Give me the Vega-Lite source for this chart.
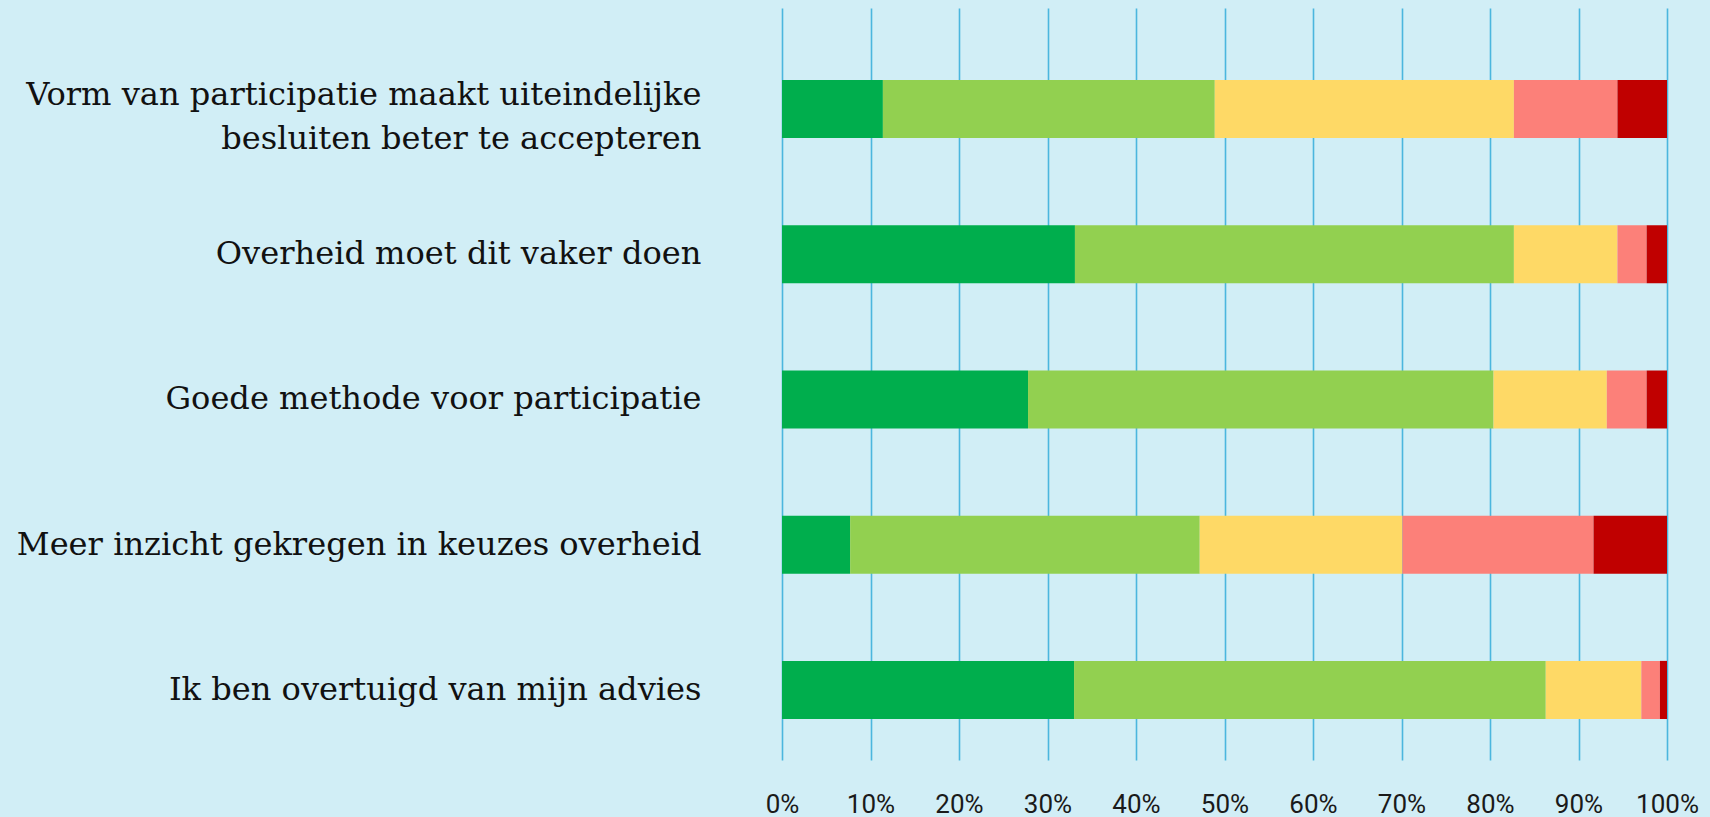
{
  "$schema": "https://vega.github.io/schema/vega-lite/v6.json",
  "autosize": "none",
  "width": 885,
  "height": 752,
  "padding": {"left": 782, "top": 8, "right": 43, "bottom": 57},
  "background": "#D1EEF6",
  "config": {"view": {"stroke": null}},
  "data": {
    "values": [
      {"stelling": "Vorm van participatie maakt uiteindelijke|besluiten beter te accepteren", "antwoord": "Helemaal eens", "k": 1, "pct": 11.4},
      {"stelling": "Vorm van participatie maakt uiteindelijke|besluiten beter te accepteren", "antwoord": "Eens", "k": 2, "pct": 37.5},
      {"stelling": "Vorm van participatie maakt uiteindelijke|besluiten beter te accepteren", "antwoord": "Neutraal", "k": 3, "pct": 33.8},
      {"stelling": "Vorm van participatie maakt uiteindelijke|besluiten beter te accepteren", "antwoord": "Oneens", "k": 4, "pct": 11.7},
      {"stelling": "Vorm van participatie maakt uiteindelijke|besluiten beter te accepteren", "antwoord": "Helemaal oneens", "k": 5, "pct": 5.6},
      {"stelling": "Overheid moet dit vaker doen", "antwoord": "Helemaal eens", "k": 1, "pct": 33.1},
      {"stelling": "Overheid moet dit vaker doen", "antwoord": "Eens", "k": 2, "pct": 49.6},
      {"stelling": "Overheid moet dit vaker doen", "antwoord": "Neutraal", "k": 3, "pct": 11.7},
      {"stelling": "Overheid moet dit vaker doen", "antwoord": "Oneens", "k": 4, "pct": 3.3},
      {"stelling": "Overheid moet dit vaker doen", "antwoord": "Helemaal oneens", "k": 5, "pct": 2.3},
      {"stelling": "Goede methode voor participatie", "antwoord": "Helemaal eens", "k": 1, "pct": 27.8},
      {"stelling": "Goede methode voor participatie", "antwoord": "Eens", "k": 2, "pct": 52.6},
      {"stelling": "Goede methode voor participatie", "antwoord": "Neutraal", "k": 3, "pct": 12.8},
      {"stelling": "Goede methode voor participatie", "antwoord": "Oneens", "k": 4, "pct": 4.5},
      {"stelling": "Goede methode voor participatie", "antwoord": "Helemaal oneens", "k": 5, "pct": 2.3},
      {"stelling": "Meer inzicht gekregen in keuzes overheid", "antwoord": "Helemaal eens", "k": 1, "pct": 7.7},
      {"stelling": "Meer inzicht gekregen in keuzes overheid", "antwoord": "Eens", "k": 2, "pct": 39.5},
      {"stelling": "Meer inzicht gekregen in keuzes overheid", "antwoord": "Neutraal", "k": 3, "pct": 22.9},
      {"stelling": "Meer inzicht gekregen in keuzes overheid", "antwoord": "Oneens", "k": 4, "pct": 21.6},
      {"stelling": "Meer inzicht gekregen in keuzes overheid", "antwoord": "Helemaal oneens", "k": 5, "pct": 8.3},
      {"stelling": "Ik ben overtuigd van mijn advies", "antwoord": "Helemaal eens", "k": 1, "pct": 33.0},
      {"stelling": "Ik ben overtuigd van mijn advies", "antwoord": "Eens", "k": 2, "pct": 53.3},
      {"stelling": "Ik ben overtuigd van mijn advies", "antwoord": "Neutraal", "k": 3, "pct": 10.8},
      {"stelling": "Ik ben overtuigd van mijn advies", "antwoord": "Oneens", "k": 4, "pct": 2.1},
      {"stelling": "Ik ben overtuigd van mijn advies", "antwoord": "Helemaal oneens", "k": 5, "pct": 0.8}
    ]
  },
  "mark": {"type": "bar"},
  "encoding": {
    "y": {
      "field": "stelling",
      "type": "nominal",
      "sort": null,
      "scale": {"paddingInner": 0.6, "paddingOuter": 0.389, "align": 0.637},
      "axis": {
        "title": null,
        "domain": false,
        "ticks": false,
        "labelPadding": 81,
        "labelFont": "DejaVu Serif",
        "labelFontSize": 32.1,
        "labelColor": "#111111",
        "labelLimit": 800,
        "labelLineHeight": 44,
        "labelOffset": {"condition": {"test": "indexof(datum.value, '|') >= 0", "value": -14}, "value": 0},
        "labelExpr": "split(datum.label, '|')"
      }
    },
    "x": {
      "field": "pct",
      "type": "quantitative",
      "stack": "normalize",
      "scale": {"domain": [0, 1], "nice": false},
      "axis": {
        "title": null,
        "domain": false,
        "ticks": false,
        "grid": true,
        "gridColor": "#4BB6DE",
        "gridWidth": 1.6,
        "values": [0, 0.1, 0.2, 0.3, 0.4, 0.5, 0.6, 0.7, 0.8, 0.9, 1],
        "format": ".0%",
        "labelFont": "Roboto",
        "labelFontSize": 26,
        "labelColor": "#1a1a1a",
        "labelBaseline": "alphabetic",
        "labelPadding": 52,
        "labelFlush": false
      }
    },
    "color": {
      "field": "antwoord",
      "type": "nominal",
      "legend": null,
      "scale": {
        "domain": ["Helemaal eens", "Eens", "Neutraal", "Oneens", "Helemaal oneens"],
        "range": ["#00AE4D", "#92D050", "#FED966", "#FC8079", "#C00000"]
      }
    },
    "order": {"field": "k", "type": "quantitative"}
  }
}
